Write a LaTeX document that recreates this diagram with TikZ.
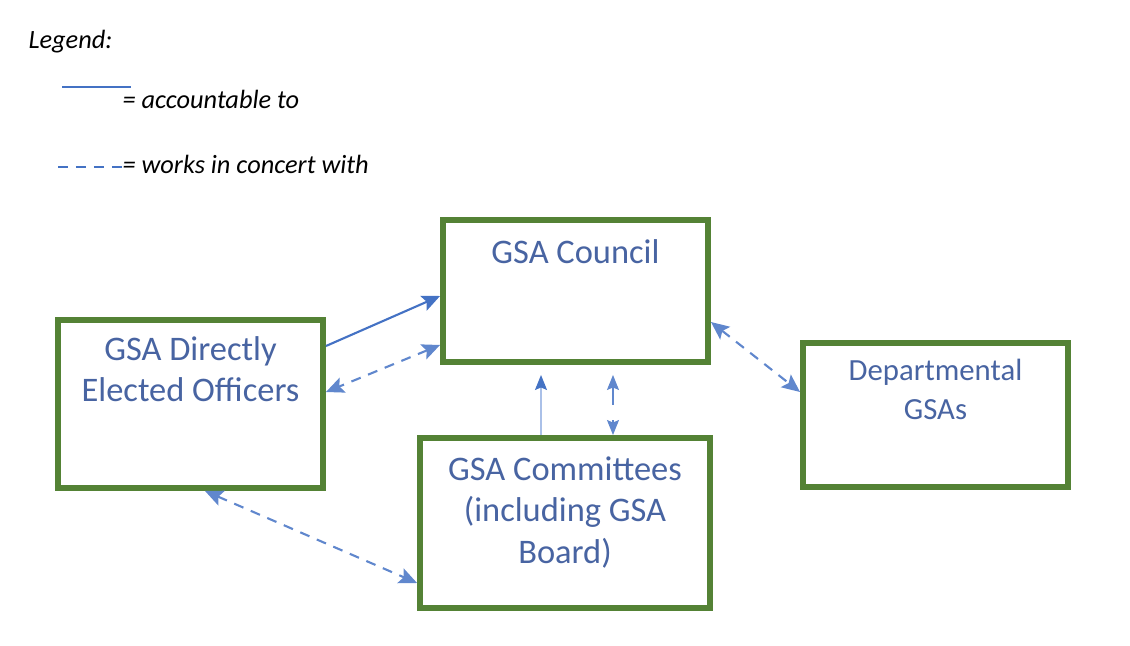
\documentclass[tikz,border=0pt]{standalone}
\usepackage{fontspec}
\setmainfont{Carlito}
\usepackage{xcolor}
\usetikzlibrary{arrows.meta,arrows,positioning,calc,shapes}

\definecolor{boxgreen}{RGB}{84,130,53}
\definecolor{linkblue}{RGB}{68,114,196}
\definecolor{thinblue}{RGB}{170,192,232}
\definecolor{textblue}{RGB}{72,100,162}

\begin{document}
\begin{tikzpicture}[
            x = 0.02cm, y = -0.02cm, % one unit = one pixel of the sketch
            > = {Stealth[length=3.6mm, width=3.2mm, inset=0.7mm]}, % arrow head style
            semithick % line style
        ]

        \tikzstyle{every box}=[
            draw = boxgreen,
            line width = 3.4pt,
            fill = white,
            rectangle,
            inner sep = 0pt
        ]
        \tikzstyle{box text}=[
            anchor = north,
            inner sep = 0pt,
            align = center,
            text = textblue,
            font = \fontsize{19.6}{23.6}\selectfont
        ]
        \tikzstyle{accountable}=[->, color = linkblue, line width = 1.2pt]
        \tikzstyle{concert}=[<->, color = linkblue!85, line width = 1.2pt,
            dash pattern = on 0.2cm off 0.16cm]
        \tikzstyle{legend text}=[anchor = base west, inner sep = 0pt,
            font = \fontsize{15}{17}\selectfont\itshape]

        \useasboundingbox (0,0) rectangle (1130,646);

        % Legend
        \node[legend text] (legend) [at={(28,48)}] {Legend:};
        \coordinate (sa) at (62,87);
        \coordinate (sb) at (131,87);
        \coordinate (da) at (58,167);
        \coordinate (db) at (125,167);
        \node[legend text] (acc) [at={(122,108)}] {= accountable to};
        \node[legend text] (con) [at={(122,173)}] {= works in concert with};
        \draw[linkblue, line width = 1.2pt] (sa) -- (sb);
        \draw[linkblue, line width = 1.2pt,
            dash pattern = on 0.2cm off 0.16cm] (da) -- (db);

        % Boxes
        \node[every box, minimum width = 5.3cm, minimum height = 2.84cm,
            label={[box text, yshift=-0.44cm]north:GSA Council}]
            (council) [at={(575.5,291)}] {};
        \node[every box, minimum width = 5.3cm, minimum height = 3.36cm,
            label={[box text, yshift=-0.38cm]north:GSA Directly\\Elected Officers}]
            (officers) [at={(190.5,404)}] {};
        \node[every box, minimum width = 5.8cm, minimum height = 3.4cm,
            label={[box text, yshift=-0.42cm]north:GSA Committees\\(including GSA\\Board)}]
            (committees) [at={(565,523)}] {};
        \node[every box, minimum width = 5.3cm, minimum height = 2.88cm,
            label={[box text, yshift=-0.38cm, font=\fontsize{17.5}{22}\selectfont]north:Departmental\\GSAs}]
            (departmental) [at={(935.5,415)}] {};

        \path[accountable] ([yshift=1.16cm]officers.east) edge ([yshift=-0.1cm]council.west);
        \path[concert] ([yshift=-1.08cm]council.west) edge ([yshift=0.24cm]officers.east);
        \path[concert] ([yshift=-0.62cm]council.east) edge ([yshift=0.46cm]departmental.west);
        \path[concert] ([xshift=0.29cm]officers.south) edge ([yshift=-1.2cm]committees.west);
        \path[->, color = thinblue, line width = 0.8pt, shorten > = 0.2cm,
            > = {Stealth[length=3mm, width=2.4mm, inset=0.5mm, color=linkblue]}]
            ([xshift=-0.48cm]committees.north) edge ([xshift=-0.48cm]committees.north |- council.south);
        \path[concert, line width = 0.8pt, shorten < = 0.2cm,
            dash pattern = on 0.36cm off 0.3cm on 0.14cm off 0.6cm,
            > = {Stealth[length=3mm, width=2.4mm, inset=0.5mm]}]
            ([xshift=0.96cm]committees.north |- council.south) edge ([xshift=0.96cm]committees.north);

\end{tikzpicture}
\end{document}
